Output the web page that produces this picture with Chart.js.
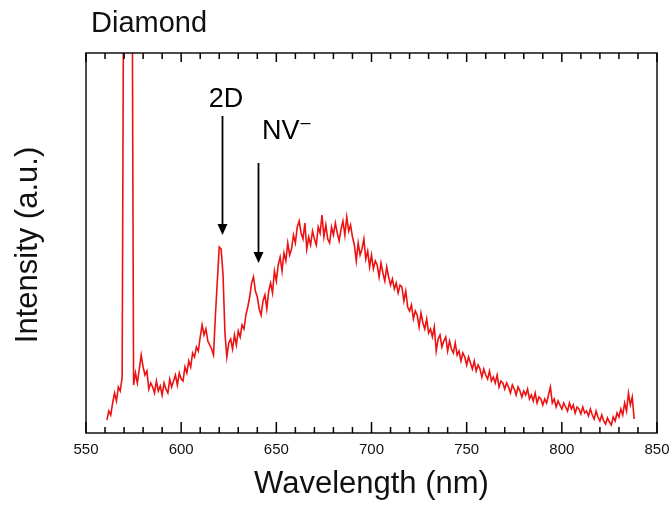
<!DOCTYPE html>
<html>
<head>
<meta charset="utf-8">
<script src="https://cdn.jsdelivr.net/npm/chart.js@4.4.1/dist/chart.umd.min.js"></script>
<style>
  html, body { margin: 0; padding: 0; background: #fff; }
  #wrap { width: 672px; height: 508px; }
</style>
</head>
<body>
<div id="wrap"><canvas id="specChart" width="672" height="508"></canvas></div>
<script>
var specCanvas = document.getElementById("specChart");

// wavelength (nm)
var wavelength = [
  561,562,563,564,565,566,567,568,569,570,
  571,572,573,574,575,576,577,578,579,580,
  581,582,583,584,585,586,587,588,589,590,
  591,592,593,594,595,596,597,598,599,600,
  601,602,603,604,605,606,607,608,609,610,
  611,612,613,614,615,616,617,618,619,620,
  621,622,623,624,625,626,627,628,629,630,
  631,632,633,634,635,636,637,638,639,640,
  641,642,643,644,645,646,647,648,649,650,
  651,652,653,654,655,656,657,658,659,660,
  661,662,663,664,665,666,667,668,669,670,
  671,672,673,674,675,676,677,678,679,680,
  681,682,683,684,685,686,687,688,689,690,
  691,692,693,694,695,696,697,698,699,700,
  701,702,703,704,705,706,707,708,709,710,
  711,712,713,714,715,716,717,718,719,720,
  721,722,723,724,725,726,727,728,729,730,
  731,732,733,734,735,736,737,738,739,740,
  741,742,743,744,745,746,747,748,749,750,
  751,752,753,754,755,756,757,758,759,760,
  761,762,763,764,765,766,767,768,769,770,
  771,772,773,774,775,776,777,778,779,780,
  781,782,783,784,785,786,787,788,789,790,
  791,792,793,794,795,796,797,798,799,800,
  801,802,803,804,805,806,807,808,809,810,
  811,812,813,814,815,816,817,818,819,820,
  821,822,823,824,825,826,827,828,829,830,
  831,832,833,834,835,836,837,838
];

// intensity (a.u.); the 570-574 nm lines run off the top
var intensity = [
  13,22,18,30,40,32,46,42,56,600,
  650,650,640,600,48,60,50,64,78,66,
  58,62,44,50,46,40,52,42,47,38,
  50,44,40,54,46,52,58,48,60,54,
  52,66,60,72,66,80,76,86,82,96,
  108,98,104,92,88,84,78,118,152,186,
  184,158,100,76,90,94,84,98,88,102,
  96,108,104,118,126,136,150,156,142,136,
  124,118,132,138,124,142,150,140,162,152,
  168,176,162,180,172,190,178,184,198,190,
  206,212,200,194,210,184,196,188,202,194,
  188,206,200,218,196,208,194,190,206,198,
  210,200,192,204,212,198,216,202,208,196,
  188,172,190,178,184,194,174,182,166,178,
  164,172,168,156,170,160,152,166,156,148,
  154,144,150,140,148,146,132,142,126,122,
  128,114,122,118,106,120,110,104,114,100,
  104,96,106,82,94,98,86,92,96,82,
  92,84,80,90,78,82,72,80,76,68,
  76,70,64,72,62,68,64,56,64,58,
  54,62,52,56,50,58,46,52,50,44,
  50,46,40,48,44,38,46,42,36,42,
  38,44,34,38,32,40,30,36,34,28,
  34,30,38,46,30,34,26,32,28,24,
  30,26,22,30,24,28,20,26,24,19,
  26,20,22,17,24,18,14,22,16,12,
  18,12,9,15,11,8,16,12,20,16,
  24,18,30,22,40,28,36,14
];

var xTicks = [550, 600, 650, 700, 750, 800, 850];

// arrows: label, x of arrow (nm), top and tip (intensity), label anchor
var notes = [
  { text: "2D", x: 621.3, top: 317, tip: 198, tx: 623.5, ty: 333, align: "center" },
  { text: "NV", sup: "\u2013", x: 640.5, top: 270, tip: 170, tx: 642.5, ty: 301, align: "left" }
];

var points = [];
for (var i = 0; i < wavelength.length; i++) {
  points.push({ x: wavelength[i], y: intensity[i] });
}

var FONT = "'Liberation Sans', Arial, Helvetica, sans-serif";

var decor = {
  id: "decor",
  afterDraw: function (chart) {
    var ctx = chart.ctx;
    var a = chart.chartArea;
    var xs = chart.scales.x;
    var ys = chart.scales.y;
    ctx.save();

    // frame
    ctx.strokeStyle = "#111";
    ctx.lineWidth = 1.5;
    ctx.strokeRect(a.left, a.top, a.right - a.left, a.bottom - a.top);

    // inside ticks, bottom and top
    ctx.strokeStyle = "#000";
    ctx.lineWidth = 1.5;
    for (var v = 550; v <= 850; v += 10) {
      var px = xs.getPixelForValue(v);
      var major = (v % 50) === 0;
      ctx.beginPath();
      ctx.moveTo(px, a.bottom);
      ctx.lineTo(px, a.bottom - (major ? 11 : 6));
      ctx.stroke();
      ctx.beginPath();
      ctx.moveTo(px, a.top);
      ctx.lineTo(px, a.top + (major ? 9 : 6));
      ctx.stroke();
    }

    // tick labels
    ctx.fillStyle = "#111";
    ctx.font = "15px " + FONT;
    ctx.textAlign = "center";
    ctx.textBaseline = "middle";
    xTicks.forEach(function (t) {
      ctx.fillText(String(t), xs.getPixelForValue(t), a.bottom + 17);
    });

    // axis titles
    ctx.font = "31px " + FONT;
    ctx.fillText("Wavelength (nm)", (a.left + a.right) / 2, 484);
    ctx.save();
    ctx.translate(28, (a.top + a.bottom) / 2 + 2);
    ctx.rotate(-Math.PI / 2);
    ctx.fillText("Intensity (a.u.)", 0, 0);
    ctx.restore();

    // title
    ctx.font = "29px " + FONT;
    ctx.textAlign = "left";
    ctx.fillText("Diamond", 91, 24);

    // arrows and labels
    notes.forEach(function (n) {
      var ax = Math.round(xs.getPixelForValue(n.x)) + 0.5;
      var y0 = ys.getPixelForValue(n.top);
      var y1 = ys.getPixelForValue(n.tip);
      ctx.strokeStyle = "#000";
      ctx.fillStyle = "#000";
      ctx.lineWidth = 1.8;
      ctx.beginPath();
      ctx.moveTo(ax, y0);
      ctx.lineTo(ax, y1 - 9);
      ctx.stroke();
      ctx.beginPath();
      ctx.moveTo(ax - 5, y1 - 11);
      ctx.lineTo(ax + 5, y1 - 11);
      ctx.lineTo(ax, y1);
      ctx.closePath();
      ctx.fill();

      ctx.font = "27px " + FONT;
      ctx.textAlign = n.align;
      ctx.textBaseline = "middle";
      var tx = xs.getPixelForValue(n.tx);
      var ty = ys.getPixelForValue(n.ty);
      ctx.fillText(n.text, tx, ty);
      if (n.sup) {
        var w = ctx.measureText(n.text).width;
        ctx.font = "18px " + FONT;
        ctx.textAlign = "left";
        ctx.fillText(n.sup, tx + w + 1, ty - 9);
      }
    });

    ctx.restore();
  }
};

var specChart = new Chart(specCanvas, {
  type: "line",
  data: {
    datasets: [{
      label: "Diamond",
      data: points,
      borderColor: "rgb(236,18,18)",
      borderWidth: 1.6,
      pointRadius: 0,
      lineTension: 0,
      fill: false
    }]
  },
  options: {
    responsive: false,
    animation: false,
    events: [],
    layout: { padding: { left: 86, right: 15, top: 53, bottom: 75 } },
    plugins: {
      legend: { display: false },
      tooltip: { enabled: false }
    },
    scales: {
      x: { type: "linear", min: 550, max: 850, display: false },
      y: { type: "linear", min: 0, max: 380, display: false }
    }
  },
  plugins: [decor]
});
</script>
</body>
</html>
